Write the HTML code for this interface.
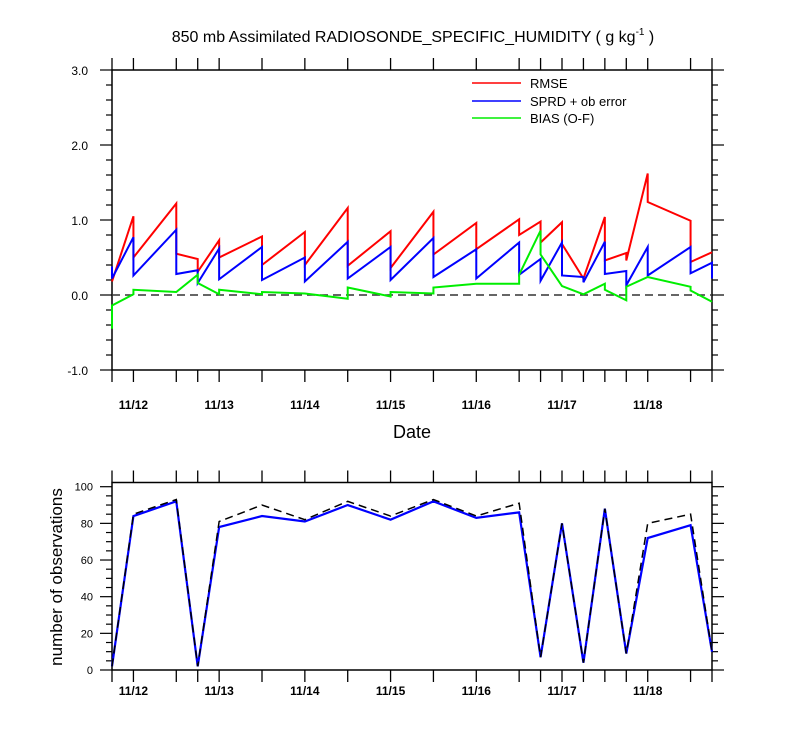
<!DOCTYPE html>
<html><head><meta charset="utf-8"><style>
body{margin:0;background:#fff}
svg text{font-family:"Liberation Sans",sans-serif;fill:#000}
</style></head><body>
<svg id="c" width="800" height="750" xmlns="http://www.w3.org/2000/svg">
<text x="413" y="42" font-size="16" text-anchor="middle">850 mb Assimilated RADIOSONDE_SPECIFIC_HUMIDITY ( g kg<tspan font-size="10" dy="-7">-1</tspan><tspan dy="7"> )</tspan></text>
<g id="topPanel"></g>
<g id="botPanel"></g>
<text x="412" y="438" font-size="18" text-anchor="middle">Date</text>
<text transform="translate(62,577) rotate(-90)" font-size="17" text-anchor="middle">number of observations</text>
<g>
<line x1="472" y1="83" x2="521" y2="83" stroke="#f00" stroke-width="1.5"/>
<text x="530" y="88" font-size="13">RMSE</text>
<line x1="472" y1="101" x2="521" y2="101" stroke="#00f" stroke-width="1.5"/>
<text x="530" y="106" font-size="13">SPRD + ob error</text>
<line x1="472" y1="118" x2="521" y2="118" stroke="#0e0" stroke-width="1.5"/>
<text x="530" y="123" font-size="13">BIAS (O-F)</text>
</g>
</svg>
<script>
// hours since 11/11 18Z
const cycleHours=[0,6,18,24,30,42,54,66,78,90,102,114,120,126,132,138,144,150,162,168];
const dayLabels=["11/12","11/13","11/14","11/15","11/16","11/17","11/18"];
const dayHours=[6,30,54,78,102,126,150];
const rmseT=[0,6,6,18,18,24,24,30,30,42,42,54,54,66,66,78,78,90,90,102,102,114,114,120,120,126,126,132,132,138,138,144,144,150,150,162,162,168];
const rmseV=[0.18,1.05,0.5,1.22,0.55,0.48,0.31,0.73,0.5,0.78,0.4,0.84,0.4,1.16,0.39,0.85,0.36,1.11,0.54,0.96,0.61,1.01,0.8,0.98,0.7,0.97,0.68,0.22,0.22,1.04,0.46,0.56,0.46,1.62,1.24,0.99,0.44,0.57];
const sprdT=[0,0,6,6,18,18,24,24,30,30,42,42,54,54,66,66,78,78,90,90,102,102,114,114,120,120,126,126,132,132,138,138,144,144,150,150,162,162,168,168];
const sprdV=[0.38,0.22,0.77,0.26,0.87,0.28,0.33,0.16,0.62,0.21,0.64,0.2,0.5,0.18,0.71,0.22,0.64,0.2,0.76,0.24,0.61,0.22,0.7,0.27,0.48,0.19,0.7,0.26,0.24,0.17,0.71,0.28,0.32,0.13,0.64,0.26,0.64,0.29,0.43,0.22];
const biasT=[0,0,6,6,18,24,24,30,30,42,42,54,66,66,78,78,90,90,102,114,114,120,120,126,132,138,138,144,144,150,162,162,168];
const biasV=[-0.45,-0.14,0.01,0.07,0.04,0.27,0.16,0.01,0.07,0.01,0.04,0.02,-0.05,0.1,-0.02,0.04,0.02,0.1,0.15,0.15,0.27,0.86,0.54,0.12,0.01,0.15,0.07,-0.07,0.11,0.24,0.11,0.06,-0.09];
const obsUsed=[2,84,92,2,78,84,81,90,82,92,83,86,7,80,4,88,9,72,79,10];
const obsTotal=[2,85,93,2,81,90,82,92,84,93,84,91,7,80,4,88,9,80,85,10];
const topTicks=[3,2,1,0,-1];
const botTicks=[0,20,40,60,80,100];

const NS="http://www.w3.org/2000/svg";
const X0=112,X1=712;
const xs=h=>X0+(X1-X0)*h/168;
const yt=v=>295-75*v;
const yb=v=>670-1.833*v;
function mk(p,tag,a){const e=document.createElementNS(NS,tag);for(const k in a)e.setAttribute(k,a[k]);p.appendChild(e);return e;}
const topG=document.getElementById('topPanel'),botG=document.getElementById('botPanel');

function frame(g,yTop,yBot,name,labOff){
  const r=mk(g,'rect',{x:X0,y:yTop,width:X1-X0,height:yBot-yTop,fill:'none',stroke:'#000','stroke-width':1.5});
  
  
  cycleHours.forEach(h=>{
    const x=xs(h);
    const t1=mk(g,'line',{x1:x,x2:x,y1:yTop,y2:yTop-12,stroke:'#000','stroke-width':1.3});
    
    
    const t2=mk(g,'line',{x1:x,x2:x,y1:yBot,y2:yBot+12,stroke:'#000','stroke-width':1.3});
    
    
  });
  dayHours.forEach((h,i)=>{
    const t=mk(g,'text',{x:xs(h),y:yBot+labOff,'font-size':12,'font-weight':'bold','text-anchor':'middle'});
    t.textContent=dayLabels[i];
    
    
  });
}
function poly(g,T,V,yf,col,w,dash,name){
  const pts=T.map((t,i)=>xs(t)+','+yf(V[i])).join(' ');
  const a={points:pts,fill:'none',stroke:col,'stroke-width':w,'stroke-linejoin':'miter'};
  if(dash)a['stroke-dasharray']=dash;
  const p=mk(g,'polyline',a);
  
  
}

// top panel
frame(topG,70,370,'top',39);
for(let v=-1;v<=3.001;v+=0.2){
  const y=yt(v),maj=Math.abs(v-Math.round(v))<1e-6,len=maj?12:6;
  mk(topG,'line',{x1:X0,x2:X0-len,y1:y,y2:y,stroke:'#000','stroke-width':1.2});
  mk(topG,'line',{x1:X1,x2:X1+len,y1:y,y2:y,stroke:'#000','stroke-width':1.2});
}
topTicks.forEach(v=>{
  const t=mk(topG,'text',{x:88,y:yt(v)+5,'font-size':12,'text-anchor':'end'});
  t.textContent=v.toFixed(1);
  
  
});
const zl=mk(topG,'line',{x1:X0,x2:X1,y1:yt(0),y2:yt(0),stroke:'#333','stroke-width':1.5,'stroke-dasharray':'8,5'});


poly(topG,rmseT,rmseV,yt,'#f00',2,null,'rmse-line');
poly(topG,sprdT,sprdV,yt,'#00f',2,null,'sprd-line');
poly(topG,biasT,biasV,yt,'#0e0',2,null,'bias-line');

// bottom panel
frame(botG,482.5,670,'bottom',25);
for(let v=0;v<=100;v+=5){
  const y=yb(v),maj=v%20===0,len=maj?12:6;
  mk(botG,'line',{x1:X0,x2:X0-len,y1:y,y2:y,stroke:'#000','stroke-width':1.2});
  mk(botG,'line',{x1:X1,x2:X1+len,y1:y,y2:y,stroke:'#000','stroke-width':1.2});
}
botTicks.forEach(v=>{
  const t=mk(botG,'text',{x:93,y:yb(v)+4,'font-size':11,'text-anchor':'end'});
  t.textContent=v;
  
  
});
poly(botG,cycleHours,obsUsed,yb,'#00f',2.2,null,'obs-used-line');
poly(botG,cycleHours,obsTotal,yb,'#000',1.5,'8,5','obs-total-line');
</script>
</body></html>
